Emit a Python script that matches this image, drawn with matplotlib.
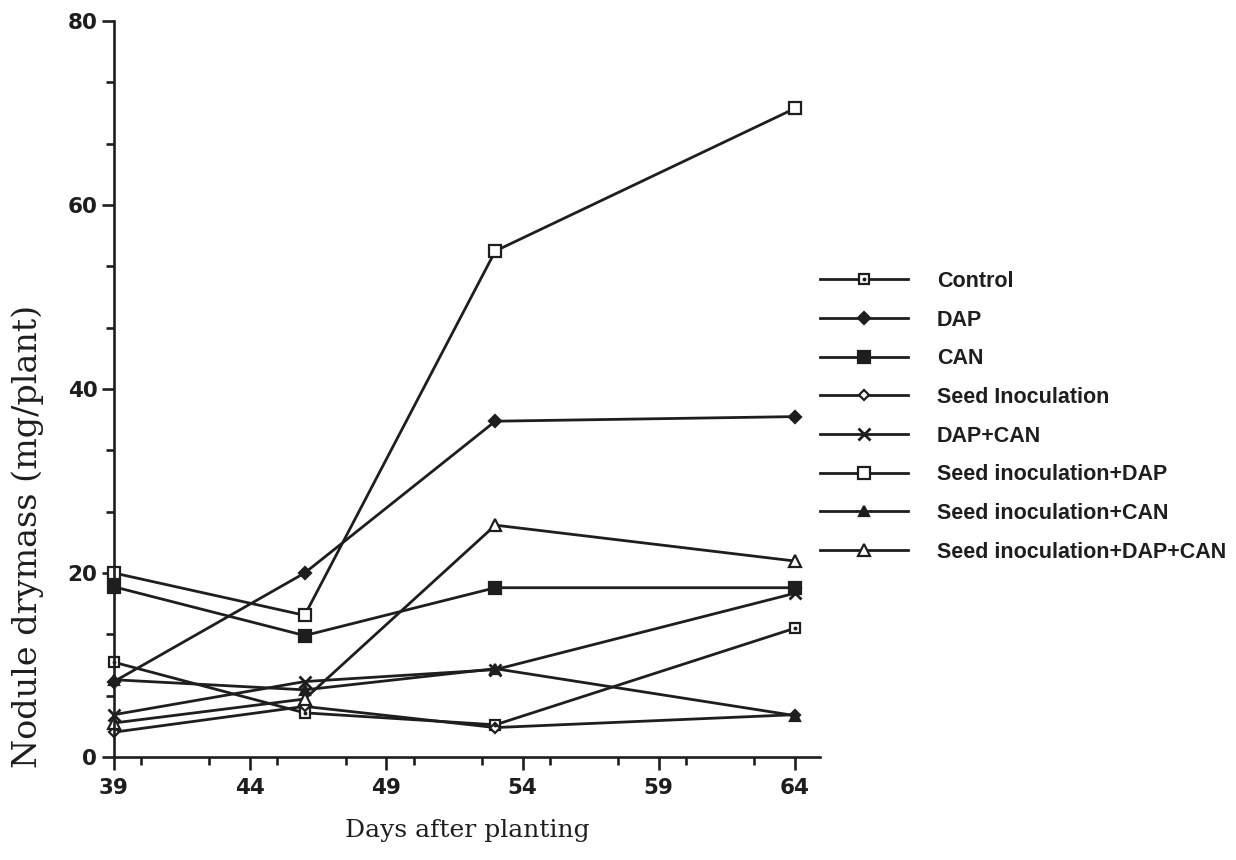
import matplotlib
matplotlib.use('Agg')
import matplotlib.pyplot as plt
from matplotlib import font_manager
from matplotlib.ticker import MultipleLocator

# sampling days
days = [39, 46, 53, 64]

# nodule drymass (mg/plant)
control = [10.3, 4.8, 3.5, 14.0]
dap = [8.2, 20.0, 36.5, 37.0]
can = [18.5, 13.2, 18.4, 18.4]
seed_inoc = [2.7, 5.5, 3.2, 4.6]
dap_can = [4.6, 8.2, 9.5, 17.8]
seed_dap = [20.0, 15.4, 55.0, 70.5]
seed_can = [8.4, 7.3, 9.6, 4.5]
seed_dap_can = [3.7, 6.3, 25.2, 21.3]

labels = ['Control', 'DAP', 'CAN', 'Seed Inoculation', 'DAP+CAN',
          'Seed inoculation+DAP', 'Seed inoculation+CAN',
          'Seed inoculation+DAP+CAN']

x_ticks = [39, 44, 49, 54, 59, 64]
y_ticks = [0, 20, 40, 60, 80]

ink = '#1e1e1e'

installed = {f.name for f in font_manager.fontManager.ttflist}
if 'Liberation Sans Narrow' in installed:
    legend_font = dict(family='Liberation Sans Narrow', weight='bold', size=17.5)
else:
    legend_font = dict(family='Liberation Sans', weight='bold', size=15.5)
fs_px = legend_font['size'] * 100 / 72

fig = plt.figure(figsize=(12.36, 8.6), dpi=100)
ax = fig.add_axes([114 / 1236, 1 - 757 / 860, (820 - 114) / 1236, (757 - 21) / 860])

# (marker, size, face colour)
styles = [('s', 6.5, 'white'), ('D', 6.5, ink), ('s', 8, ink), ('D', 5.5, 'white'),
          ('x', 8, ink), ('s', 8.5, 'white'), ('^', 7.5, ink), ('^', 8.5, 'white')]
series = [control, dap, can, seed_inoc, dap_can, seed_dap, seed_can, seed_dap_can]

handles = []
for vals, (mk, ms, fc) in zip(series, styles):
    ln, = ax.plot(days, vals, color=ink, lw=2.0, marker=mk, ms=ms,
                  mfc=fc, mec=ink, mew=1.6 if mk != 'x' else 2.0, clip_on=False)
    handles.append(ln)

# the control symbol is a square with a dot in it
dot, = ax.plot(days, control, ls='none', marker='o', ms=1.8, color=ink, clip_on=False)
handles[0] = (handles[0], dot)

ax.set_xlim(39, 64.92)
ax.set_ylim(0, 80)
ax.set_xticks(x_ticks)
ax.set_yticks(y_ticks)
ax.xaxis.set_minor_locator(MultipleLocator(2.5))
ax.yaxis.set_minor_locator(MultipleLocator(20 / 3))

for s in ['top', 'right']:
    ax.spines[s].set_visible(False)
for s in ['left', 'bottom']:
    ax.spines[s].set_linewidth(1.9)
    ax.spines[s].set_color(ink)

ax.tick_params(which='major', direction='out', length=9, width=1.9, color=ink)
ax.tick_params(which='minor', direction='out', length=6, width=1.9, color=ink)
ax.tick_params(axis='y', pad=3)
ax.tick_params(axis='x', pad=6)
for t in ax.get_xticklabels() + ax.get_yticklabels():
    t.set_fontfamily('DejaVu Sans')
    t.set_fontweight('bold')
    t.set_fontsize(15.5)
    t.set_color(ink)

ax.set_xlabel('Days after planting', family='DejaVu Serif', fontsize=18,
              color=ink, labelpad=15)
ax.set_ylabel('Nodule drymass (mg/plant)', family='DejaVu Serif', fontsize=24,
              color=ink)
ax.yaxis.set_label_coords(-0.099, 0.30)

leg = fig.legend(handles, labels, loc='upper left',
                 bbox_to_anchor=(820 / 1236, 1 - 271 / 860),
                 frameon=False, prop=legend_font, handlelength=88 / fs_px,
                 handletextpad=29 / fs_px, labelspacing=0.82, borderpad=0,
                 borderaxespad=0)
for t in leg.get_texts():
    t.set_color(ink)

fig.savefig('out.png', dpi=100, facecolor='white')
